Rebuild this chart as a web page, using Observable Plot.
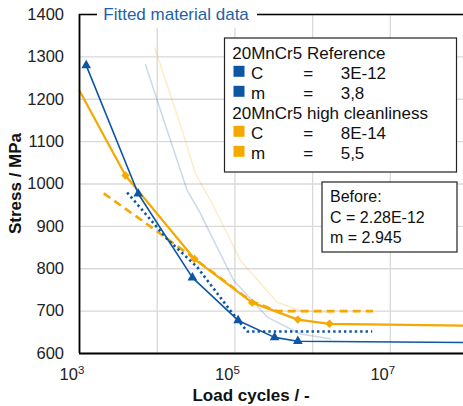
<!DOCTYPE html>
<html><head><meta charset="utf-8">
<script src="https://cdn.jsdelivr.net/npm/d3@7"></script>
<script src="https://cdn.jsdelivr.net/npm/@observablehq/plot@0.6"></script>
<style>
html,body{margin:0;padding:0;background:#fff;}
#chart{width:463px;height:406px;}
</style></head><body><div id="chart"></div>
<script>
// 20MnCr5 Reference (solid, triangles); last point = continuation to right edge
const refN = [1220, 5700, 28400, 110000, 324000, 646000, 8.75e7];
const refS = [1280, 977, 779, 678, 638, 629, 626];
const refMarkers = 6;
// 20MnCr5 high cleanliness (solid, diamonds); first/last points are line ends without markers
const hcN = [1000, 3910, 30200, 166700, 646000, 1650000, 8.75e7];
const hcS = [1220, 1020, 823, 720, 680, 670, 666];
// fitted curves
const refFitN = [4100, 13460, 32700, 87700, 144000, 5.85e6];
const refFitS = [980, 870, 804, 701, 652, 652];
const hcFitN = [2050, 9040, 32700, 158000, 350000, 6.0e6];
const hcFitS = [978, 894, 819, 725, 700, 700];
// faint "before" curves
const oldRefN = [7060, 13460, 24300, 36100, 51000, 96800, 260600, 698000, 1.7e6];
const oldRefS = [1282, 1126, 985, 930, 874, 772, 686, 646, 635];
const oldHcN = [9310, 21000, 31100, 48500, 87700, 118000, 350000, 698000, 1.7e6];
const oldHcS = [1321, 1126, 1024, 961, 867, 819, 721, 701, 697];

const gridXTicks = [1e3, 1e4, 1e5, 1e6, 1e7];
const gridYTicks = [600, 700, 800, 900, 1000, 1100, 1200, 1300, 1400];
const xLabelTicks = [1e3, 1e5, 1e7];
const xLabelExp = ["3", "5", "7"];
const xDomain = [1e3, 8.75e7];

const title = "Fitted material data";
const xTitle = "Load cycles / -";
const yTitle = "Stress / MPa";
const legendRows = [
  {type: "head", text: "20MnCr5 Reference"},
  {type: "row", color: "ref", name: "C", value: "3E-12"},
  {type: "row", color: "ref", name: "m", value: "3,8"},
  {type: "head", text: "20MnCr5 high cleanliness"},
  {type: "row", color: "hc", name: "C", value: "8E-14"},
  {type: "row", color: "hc", name: "m", value: "5,5"}
];
const beforeLines = ["Before:", "C = 2.28E-12", "m = 2.945"];

const blue = "#0d56a4", orange = "#f5a800";
const font = '"Liberation Sans", Arial, sans-serif';
const rows = (N, S) => N.map((n, i) => ({n, s: S[i]}));

const plot = Plot.plot({
  width: 463, height: 406,
  marginLeft: 79, marginRight: 0, marginTop: 14, marginBottom: 53,
  style: {fontFamily: font, fontSize: "16.5px", color: "#222", background: "#fff", overflow: "visible"},
  x: {type: "log", domain: xDomain, axis: null},
  y: {domain: [600, 1400], ticks: gridYTicks, tickSize: 0, tickPadding: 15.5, label: null, tickFormat: d => String(d)},
  marks: [
    Plot.ruleX(gridXTicks, {stroke: "#d9d9d9", strokeWidth: 1.3}),
    Plot.ruleY(gridYTicks, {stroke: "#d9d9d9", strokeWidth: 1.3}),
    Plot.line(rows(oldRefN, oldRefS), {x: "n", y: "s", stroke: blue, strokeOpacity: 0.22, strokeWidth: 1.5}),
    Plot.line(rows(oldHcN, oldHcS), {x: "n", y: "s", stroke: orange, strokeOpacity: 0.22, strokeWidth: 1.5}),
    Plot.line(rows(hcFitN, hcFitS), {x: "n", y: "s", stroke: orange, strokeWidth: 2.6, strokeDasharray: "8,5", strokeLinecap: "butt"}),
    Plot.line(rows(refFitN, refFitS), {x: "n", y: "s", stroke: blue, strokeWidth: 2.6, strokeDasharray: "2.4,3", strokeLinecap: "butt"}),
    Plot.line(rows(hcN, hcS), {x: "n", y: "s", stroke: orange, strokeWidth: 2.2}),
    Plot.line(rows(refN, refS), {x: "n", y: "s", stroke: blue, strokeWidth: 1.6}),
    Plot.dot(rows(hcN, hcS).slice(1, -1), {x: "n", y: "s", symbol: "diamond2", r: 3.8, fill: orange, stroke: "none"}),
    Plot.dot(rows(refN, refS).slice(0, refMarkers), {x: "n", y: "s", symbol: "triangle", r: 3.6, fill: blue, stroke: "none"}),
    Plot.ruleX([xDomain[0]], {stroke: "#000", strokeWidth: 1.8}),
    Plot.ruleY([600], {stroke: "#000", strokeWidth: 1.8}),
    Plot.ruleY([1400], {stroke: "#000", strokeWidth: 1.5})
  ]
});
document.getElementById("chart").appendChild(plot);

const svg = d3.select(plot);
const xs = plot.scale("x");
const txt = (x, y, s, size, weight, fill, anchor) =>
  svg.append("text").attr("x", x).attr("y", y).attr("text-anchor", anchor || "start")
    .attr("fill", fill || "#111").style("font", `${weight || "normal"} ${size}px ${font}`).text(s);

// title with white gap in top frame
svg.append("rect").attr("x", 97).attr("y", 0).attr("width", 160).attr("height", 27.5).attr("fill", "#fff");
txt(103.3, 20, title, 17, "normal", "#1f5fa8");

// x tick labels with superscripts
xLabelTicks.forEach((t, i) => {
  const tx = svg.append("text").attr("x", xs.apply(t) - 7).attr("y", 380)
    .attr("text-anchor", "middle").attr("fill", "#222").style("font", `16.5px ${font}`);
  tx.append("tspan").text("10");
  tx.append("tspan").attr("dy", -6.5).style("font-size", "11.5px").text(xLabelExp[i]);
});

// axis titles
txt(251, 401, xTitle, 17, "bold", "#111", "middle");
svg.append("text").attr("transform", "translate(20.5,183.5) rotate(-90)").attr("text-anchor", "middle")
  .attr("fill", "#111").style("font", `bold 17px ${font}`).text(yTitle);

// legend box 1
svg.append("rect").attr("x", 224.5).attr("y", 38).attr("width", 232).attr("height", 134)
  .attr("fill", "#fff").attr("stroke", "#222").attr("stroke-width", 1.2);
const base0 = 59.3, step = 20;
legendRows.forEach((r, i) => {
  const by = base0 + i * step;
  if (r.type === "head") {
    txt(232.3, by, r.text, 17);
  } else {
    svg.append("rect").attr("x", 233.5).attr("y", by - 13.5).attr("width", 11).attr("height", 11)
      .attr("fill", r.color === "ref" ? blue : orange);
    txt(251, by, r.name, 17);
    txt(303.3, by, "=", 17);
    txt(340.7, by, r.value, 17);
  }
});

// "Before" box
svg.append("rect").attr("x", 322).attr("y", 182).attr("width", 135).attr("height", 70)
  .attr("fill", "#fff").attr("stroke", "#222").attr("stroke-width", 1.2);
beforeLines.forEach((t, i) => txt(330, 202 + i * 20.5, t, 16));
</script></body></html>
